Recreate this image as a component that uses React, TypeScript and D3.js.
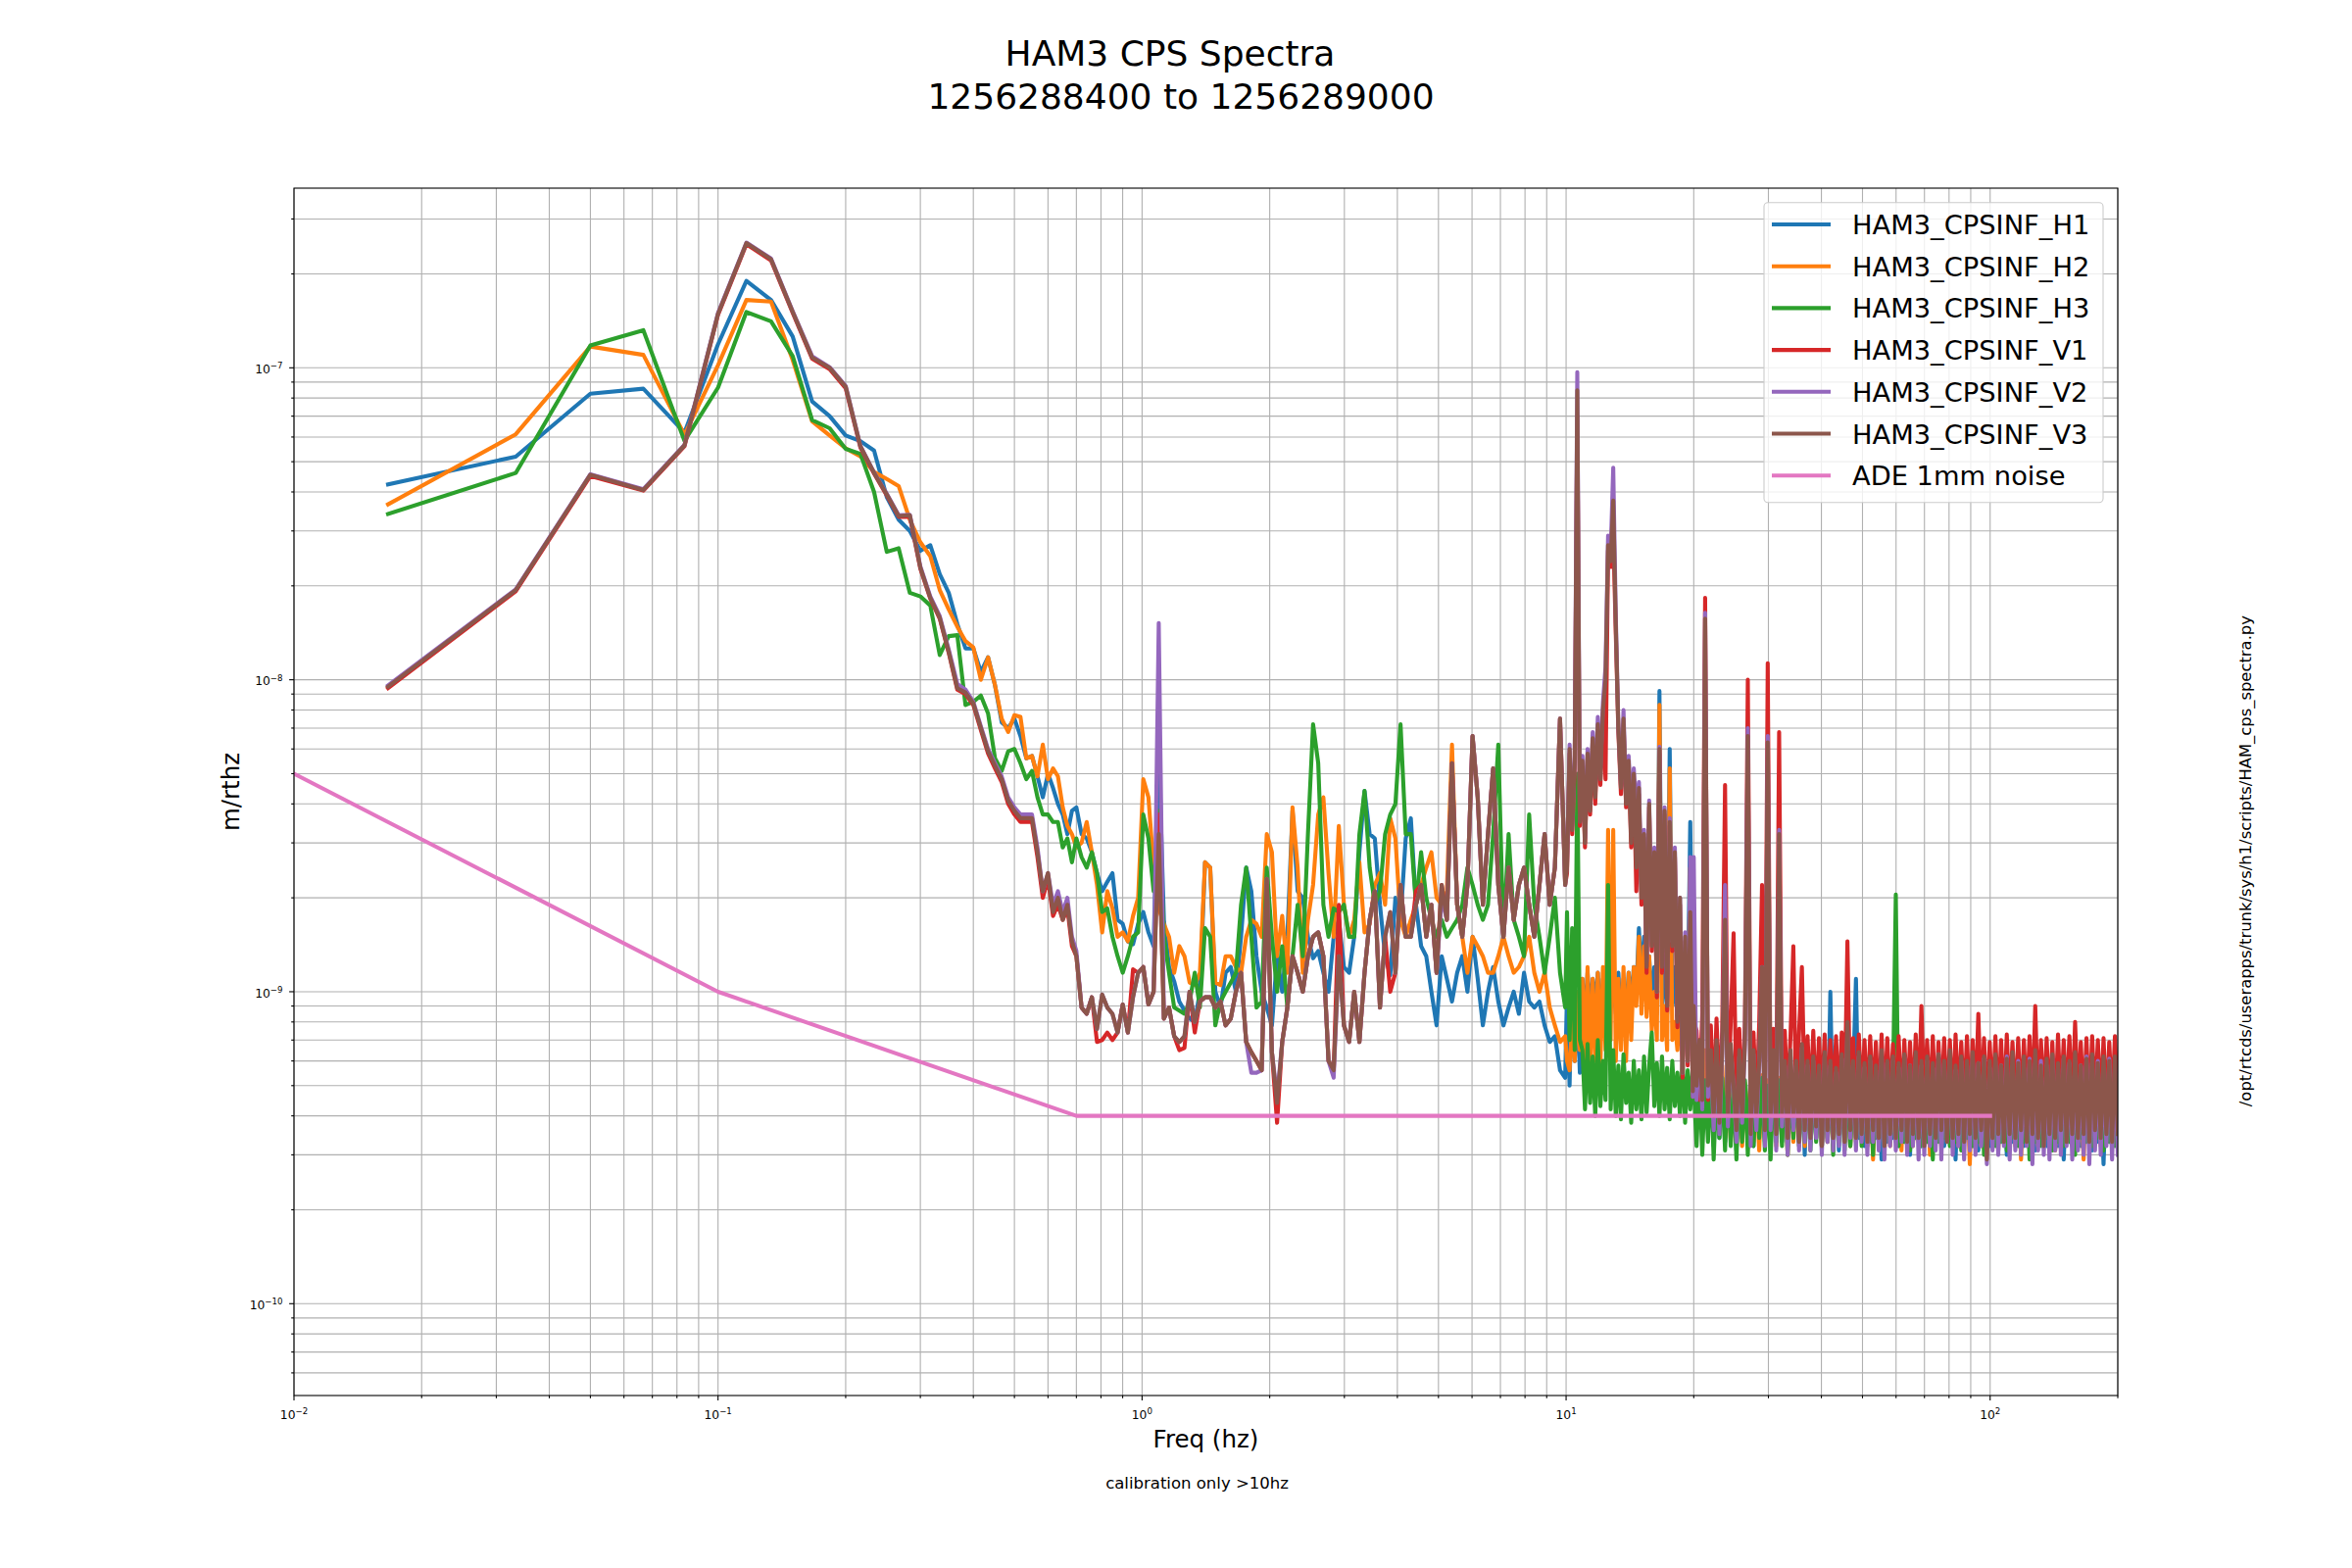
import React, { useEffect } from 'react';
import * as d3 from 'd3';

// ---------------- DATA ----------------
// Amplitude values are in units of 1e-10 m/rtHz
const UNIT = 1e-10;
// Spectral resolution of the low-frequency bins (600 s segments)
const BIN_HZ = 1 / 60;

// bins k = 1..42  (1/60 Hz .. 0.7 Hz)
const H1_LOW = [423, 519, 826, 857, 620, 1190, 1900, 1650, 1260, 780, 700, 607, 582, 543, 385, 326, 300, 259, 270, 218, 190, 151, 126, 126, 106, 118, 96, 73, 70, 75, 66, 56, 57, 49, 42, 50, 45, 40, 37, 32, 38, 39];
const H2_LOW = [365, 612, 1170, 1100, 610, 1020, 1650, 1630, 1060, 674, 607, 552, 520, 464, 440, 418, 326, 276, 249, 194, 168, 148, 133, 127, 100, 118, 96, 75, 68, 77, 76, 56, 57, 49, 62, 48, 52, 49, 39, 34, 32, 29];
const H3_LOW = [340, 460, 1180, 1320, 583, 864, 1510, 1410, 1090, 680, 640, 550, 530, 400, 257, 264, 190, 185, 173, 120, 138, 139, 83, 85, 89, 78, 56, 51, 59, 60, 54, 48, 51, 42, 37, 37, 35, 35, 29, 31, 26, 31];
const V1_LOW = [94, 192, 450, 404, 560, 1480, 2490, 2210, 1500, 1070, 990, 860, 555, 458, 390, 333, 333, 227, 182, 157, 122, 93, 90, 83, 69, 58, 52, 47, 40, 37, 35, 35, 35, 27, 20, 23, 17.5, 19, 17, 18.5, 14, 13];
const V2_LOW = [96, 195, 456, 408, 566, 1500, 2520, 2240, 1520, 1090, 1005, 875, 562, 462, 395, 337, 338, 231, 185, 160, 125, 97, 93, 85, 71, 60, 54, 49, 42, 39, 37, 37, 37, 29, 21, 24, 19, 21, 18, 20, 15, 13.5];
const V3_LOW = [95, 194, 454, 406, 564, 1490, 2510, 2230, 1510, 1080, 1000, 870, 560, 460, 393, 335, 337, 229, 183, 158, 123, 94, 91, 84, 70, 59, 53, 48, 41, 38, 36, 36, 36, 28, 21, 24, 18, 20, 17, 19, 14.5, 13];

// 95 points, log-spaced 0.72 Hz .. 9.95 Hz
const MID_START = 0.72, MID_END = 9.95, MID_N = 95;
const H1_MID = [
  32, 31, 28, 24, 21, 22.5, 24, 17, 16.5, 14.5,
  14.2, 16.5, 18, 15.5, 14, 60, 17, 12, 10.8, 9.3,
  8.7, 8.2, 8, 10, 26, 25, 10, 8.9, 11.5, 12,
  10, 15, 25, 21, 13, 10, 8.9, 7.8, 13, 10,
  15, 38, 21, 20, 15, 12.8, 13.5, 11.5, 10, 15,
  17, 12, 11.5, 15, 28, 44, 32, 31, 19, 13,
  11.3, 20, 17, 31, 36, 19, 14, 13, 10, 7.8,
  13, 11, 9.3, 11.5, 13, 10, 15, 11, 7.8, 10,
  12, 9.3, 7.8, 8.9, 10, 8.5, 11.5, 9.3, 8.9, 9.3,
  7.8, 6.9, 7.2, 5.6, 5.3];
const H2_MID = [
  30, 35, 28, 22, 15.5, 21, 18.5, 15, 15.5, 14.5,
  17.5, 20, 48, 42, 25, 18.5, 16.5, 15, 11.5, 14,
  13, 10.7, 10.5, 11.5, 26, 25, 10.7, 10.5, 13, 13,
  12, 11.5, 15, 17, 16.5, 15, 32, 28, 13, 17.5,
  11.5, 39, 25, 11.5, 17, 22, 37, 42, 24, 15,
  34, 19, 15, 17, 26, 15.5, 16.5, 22, 24, 19,
  36, 31, 17, 15, 17, 19, 22, 25, 28, 20,
  19, 21, 62, 19, 15, 11.5, 15, 14, 13, 11.5,
  11.5, 13, 15, 13, 11.5, 12, 13, 15, 11.5, 10,
  11.5, 8.9, 7.8, 6.9, 7.2];
const H3_MID = [
  27, 25, 28, 24, 18, 18.5, 15, 13, 11.5, 13,
  15, 15.5, 37, 31, 21, 38, 15, 11.5, 8.9, 8.7,
  8.5, 9.3, 11.5, 8.9, 16, 15, 7.8, 9.3, 10, 10.7,
  11.5, 19, 25, 15, 8.9, 9.3, 25, 15, 10, 14,
  8.9, 13, 19, 13, 32, 72, 54, 19, 15, 18.5,
  18, 19, 15, 15, 32, 44, 25, 19, 21, 32,
  37, 40, 72, 32, 32, 19, 28, 20, 17, 15,
  17, 15, 16, 17, 19, 25, 22, 19, 17, 19,
  32, 62, 15, 32, 17, 15, 13, 37, 19, 15,
  11.5, 15, 20, 11.5, 8.9];
const V1_MID = [
  8.9, 8.5, 9.6, 6.9, 7.0, 7.4, 7.0, 7.4, 9.1, 7.4,
  11.8, 11.5, 12, 9.1, 10, 37, 8.2, 8.9, 7.2, 6.5,
  6.6, 10, 7.4, 9.3, 9.6, 9.6, 8.9, 9.3, 7.8, 8.2,
  10, 11.5, 6.9, 6.4, 6.0, 5.6, 22, 6.4, 3.8, 6.9,
  8.9, 13, 11.5, 10, 13, 15, 15.5, 13, 6.0, 5.6,
  19, 7.8, 6.9, 10, 6.9, 11.5, 17, 21, 8.9, 15,
  10, 11.5, 22, 15, 15, 21, 22, 15, 19, 11.5,
  22, 17, 54, 19, 15, 22, 66, 42, 19, 32,
  52, 22, 15, 25, 17, 22, 25, 19, 15, 22,
  32, 19, 25, 75, 22];
const V2_MID = [
  8.9, 8.5, 9.6, 7.6, 9.8, 8.9, 8.5, 7.4, 9.1, 7.4,
  9.6, 11.5, 12, 9.1, 10, 152, 8.2, 8.9, 7.2, 6.9,
  7.2, 10, 8, 9.3, 9.6, 9.6, 8.9, 9.3, 7.8, 8.2,
  10, 11.5, 6.9, 5.5, 5.5, 5.6, 23, 6.4, 4.6, 6.9,
  8.9, 13, 11.5, 10, 13, 15, 15.5, 13, 6.0, 5.3,
  13, 7.8, 6.9, 10, 6.9, 11.5, 17, 21, 8.9, 15,
  18, 11.5, 22, 15, 15, 19, 22, 15, 19, 11.5,
  20, 17, 54, 19, 15, 22, 66, 42, 19, 32,
  52, 22, 15, 25, 17, 22, 25, 19, 15, 22,
  32, 19, 25, 75, 22];
const V3_MID = [
  8.9, 8.5, 9.6, 7.6, 9.8, 8.9, 8.5, 7.4, 9.1, 7.4,
  9.6, 11.5, 12, 9.1, 10, 32, 8.2, 8.9, 7.2, 6.9,
  7.2, 10, 8, 9.3, 9.6, 9.6, 8.9, 9.3, 7.8, 8.2,
  10, 11.5, 6.9, 6.4, 6.0, 5.6, 23, 6.4, 4.4, 6.9,
  8.9, 13, 11.5, 10, 13, 15, 15.5, 13, 6.0, 5.6,
  13, 7.8, 6.9, 10, 6.9, 11.5, 17, 21, 8.9, 15,
  18, 11.5, 22, 15, 15, 19, 22, 15, 19, 11.5,
  22, 17, 54, 19, 15, 22, 66, 42, 19, 32,
  52, 22, 15, 25, 17, 22, 25, 19, 15, 22,
  32, 19, 25, 75, 22];

// 50 points, log-spaced 10.05 Hz .. 19.9 Hz (dense, noisy region)
const DENSE_START = 10.05, DENSE_END = 19.9, DENSE_N = 50;
const H1_DENSE = [
  10, 5, 12, 6, 9.5, 5.5, 11, 8, 11.5, 8.5,
  11, 9, 11.5, 8, 11, 8.5, 11.5, 9, 11, 8.5,
  11.5, 8, 11, 8.5, 11.5, 9, 12, 10, 16, 11,
  15, 10, 13, 9, 12, 8.5, 92, 9, 13, 8.5,
  60, 9, 12, 8, 11, 7.5, 12, 9, 35, 8];
const H2_DENSE = [
  6, 5.6, 8, 6, 10, 6.5, 11, 6, 12, 5.5,
  11, 6, 11.5, 5.8, 12, 6.5, 33, 7, 33, 6,
  11, 6.5, 12, 6, 11.5, 7, 12, 9, 15, 8.5,
  14, 8.3, 13, 7.5, 10, 7, 83, 7, 9, 6.5,
  52, 7, 8, 6.5, 9, 6, 8.5, 7, 25, 7];
const H3_DENSE = [
  18, 7, 16, 6.5, 50, 7, 6.5, 4.2, 6.8, 4.4,
  6.2, 4, 7, 4.3, 6, 4.5, 22, 4.2, 6.5, 4,
  5.8, 3.9, 6.3, 4.4, 5.5, 3.8, 6, 4.2, 5.6, 3.9,
  6.2, 4.1, 5.8, 7.4, 4.3, 5.9, 4, 6.2, 4.2, 5.7,
  3.9, 6, 4.3, 5.5, 4, 6.1, 3.8, 5.6, 4.2, 5.8];
const V1_DENSE = [
  24, 58, 32, 53, 700, 34, 53, 29, 56, 37,
  63, 40, 70, 46, 78, 48, 260, 230, 300, 140,
  68, 43, 72, 39, 53, 29, 48, 21, 43, 19,
  31, 11.5, 39, 13.5, 27, 9.6, 58, 11.5, 37, 8.7,
  34, 13.5, 27, 7.7, 19, 5.3, 14.5, 5.8, 17, 4.6];
const V2_DENSE = [
  26, 62, 34, 57, 968, 36, 57, 31, 60, 40,
  68, 45, 76, 52, 85, 110, 290, 255, 478, 160,
  72, 46, 80, 41, 57, 38, 52, 38, 47, 21,
  33, 12.5, 41, 14.5, 29, 10, 61, 12.5, 39, 9.5,
  36, 14.5, 29, 8.5, 20, 5.5, 15.5, 6, 27, 4.6];
const V3_DENSE = [
  25, 60, 33, 55, 847, 35, 55, 30, 58, 38,
  65, 42, 72, 48, 80, 100, 270, 240, 375, 150,
  70, 45, 75, 40, 55, 30, 50, 25, 45, 20,
  32, 12, 40, 14, 28, 10, 60, 12, 38, 9,
  35, 14, 28, 8, 20, 5.5, 15, 6, 18, 4.8];

// 150 points, log-spaced 20 Hz .. 200 Hz
const HIGH_START = 20, HIGH_END = 200, HIGH_N = 150;
const H1_HIGH = [
  12, 4, 6, 3.5, 5.5, 3.6, 5, 3.2, 5.5, 3.4,
  5, 3.3, 6, 3.5, 5.2, 3.1, 5.5, 3.4, 5, 3.3,
  5.4, 3.2, 5, 3.5, 5.3, 3.3, 5, 3.1, 5.5, 3.4,
  5.2, 3.3, 5, 3.2, 5.4, 3.5, 5, 3.3, 5.2, 3.0,
  5.4, 3.3, 5.1, 3.4, 5.3, 3.2, 5, 3.3, 10, 3.4,
  5.2, 3.1, 5.4, 3.3, 5, 3.2, 5.3, 11, 3.4, 5,
  3.2, 5.4, 3.3, 5.1, 3.4, 5.3, 2.9, 5, 3.3, 5.2,
  3.4, 5, 3.2, 5.4, 3.3, 5.1, 3.0, 5.3, 3.4, 5,
  3.2, 5.2, 3.3, 5.4, 3.1, 5, 3.4, 5.3, 3.2, 5.1,
  3.3, 5, 2.9, 5.4, 3.3, 5.2, 3.4, 5, 3.2, 5.3,
  3.1, 5.1, 3.3, 5.4, 3.2, 5, 3.4, 5.2, 3.3, 5.3,
  3.0, 5.1, 3.3, 5, 3.4, 5.2, 3.2, 5.4, 3.3, 5,
  3.1, 5.3, 3.4, 5.1, 3.2, 5, 3.3, 5.4, 3.2, 5.2,
  2.9, 5, 3.3, 5.1, 3.4, 5.3, 3.2, 5, 3.3, 5.2,
  3.1, 5.4, 3.3, 5, 2.8, 5.2, 3.3, 5.1, 3.4, 5];
const H2_HIGH = [
  11, 6, 7, 4.5, 6.5, 4, 6, 3.6, 6.2, 3.5,
  5.8, 3.4, 5.5, 3.3, 5.2, 3.5, 5.4, 3.2, 5.1, 3.4,
  5.3, 3.3, 5, 3.1, 5.4, 3.4, 5.2, 3.3, 5, 3.2,
  5.3, 3.4, 5.1, 3.0, 5.4, 3.3, 5.2, 3.4, 5, 3.2,
  5.3, 3.3, 5.1, 3.4, 5.4, 3.2, 5, 3.3, 5.2, 3.1,
  5.4, 3.3, 5, 3.4, 5.2, 3.2, 5.3, 3.3, 5.1, 3.4,
  5, 3.2, 5.4, 2.9, 5.2, 3.3, 5.1, 3.4, 5.3, 3.2,
  5, 3.3, 5.2, 3.1, 5.4, 3.4, 5, 3.2, 5.3, 3.3,
  5.1, 3.4, 5.2, 3.0, 5, 3.3, 5.4, 3.2, 5.1, 3.4,
  5.3, 3.3, 5, 3.2, 5.2, 3.4, 5.1, 2.8, 5.4, 3.3,
  5, 3.2, 5.3, 3.4, 5.1, 3.3, 5.2, 3.1, 5, 3.4,
  5.4, 3.3, 5.1, 3.2, 5.3, 2.9, 5, 3.4, 5.2, 3.3,
  5.1, 3.2, 5.4, 3.3, 5, 3.4, 5.2, 3.1, 5.3, 3.3,
  5, 3.4, 5.1, 3.2, 5.4, 3.3, 5, 2.9, 5.2, 3.4,
  5.1, 3.3, 5.3, 3.2, 5, 3.4, 5.2, 3.3, 5.1, 3.2];
const H3_HIGH = [
  5, 3.2, 5.4, 3.0, 5.2, 3.3, 5.6, 2.9, 5, 3.4,
  5.3, 3.1, 5.5, 3.2, 5, 2.9, 5.4, 3.3, 5.2, 3.0,
  5.5, 3.2, 5.1, 3.4, 5.3, 3.1, 5, 2.9, 5.4, 3.3,
  5.2, 3.2, 5.5, 3.0, 5.1, 3.4, 5.3, 3.2, 5, 3.3,
  5.4, 3.1, 5.2, 3.3, 5, 3.2, 5.5, 3.4, 5.1, 3.0,
  5.3, 3.3, 5.2, 3.1, 5.4, 3.2, 5, 3.4, 5.3, 3.2,
  5.1, 3.3, 5.4, 3.0, 5.2, 3.4, 5, 3.2, 5.3, 3.3,
  5.1, 20.5, 3.2, 5.4, 3.3, 5, 3.1, 5.2, 3.4, 5.3,
  3.2, 5.1, 3.3, 5.4, 2.9, 5, 3.3, 5.2, 3.4, 5.1,
  3.2, 5.3, 3.3, 5, 3.1, 5.4, 3.4, 5.2, 3.2, 5,
  3.3, 5.3, 3.0, 5.1, 3.4, 5.2, 3.2, 5.4, 3.3, 5,
  3.1, 5.2, 3.4, 5.3, 3.2, 5, 3.3, 5.1, 2.9, 5.4,
  3.3, 5.2, 3.2, 5, 3.4, 5.3, 3.1, 5.1, 3.3, 5.2,
  3.2, 5.4, 3.3, 5, 3.0, 5.2, 3.4, 5.1, 3.3, 5.3,
  3.2, 5, 3.4, 5.2, 3.1, 5.3, 3.3, 5, 3.2, 5.1];
const V1_HIGH = [
  8, 7.5, 4.5, 8.5, 183, 4.5, 7.8, 4.2, 8.2, 4.6,
  7.5, 46, 4.3, 8, 15.4, 4.4, 7.6, 4.2, 8, 100,
  4.5, 7.4, 4.3, 7.9, 22, 4.4, 113, 4.2, 7.6, 4.5,
  68, 4.3, 7.5, 4.4, 7.2, 14, 4.3, 7.4, 12, 4.5,
  7.2, 4.3, 7.5, 4.2, 7.1, 4.4, 7.3, 4.3, 7.0, 4.5,
  7.2, 4.2, 7.4, 4.4, 14.5, 4.3, 7.1, 4.2, 7.3, 4.5,
  7.0, 4.3, 7.2, 4.4, 6.9, 4.2, 7.3, 4.3, 7.1, 4.4,
  6.8, 4.3, 7.2, 4.2, 7.0, 4.4, 6.9, 4.3, 7.3, 4.2,
  9, 4.4, 7.0, 4.3, 7.2, 4.2, 6.9, 4.4, 7.1, 4.3,
  7.0, 4.2, 7.3, 4.4, 6.9, 4.3, 7.2, 4.2, 7.0, 4.4,
  8.5, 4.3, 7.1, 4.2, 6.9, 4.4, 7.2, 4.3, 7.0, 4.2,
  7.3, 4.4, 6.9, 4.3, 7.1, 4.2, 7.0, 4.4, 7.2, 4.3,
  9, 4.2, 7.0, 4.4, 7.1, 4.3, 6.9, 4.2, 7.3, 4.4,
  7.0, 4.3, 7.2, 4.2, 8, 4.4, 6.9, 4.3, 7.1, 4.2,
  7.2, 4.4, 7.0, 4.3, 7.1, 4.2, 6.9, 4.4, 7.2, 4.3];
const V2_HIGH = [
  27, 4.5, 6.5, 4.2, 164, 4.6, 6.2, 3.6, 6.6, 3.5,
  6.2, 22, 3.7, 6.5, 5, 3.3, 6.2, 3.8, 6.8, 70,
  3.2, 6.3, 3.6, 5.8, 12, 3.2, 66, 3.6, 6.3, 3.1,
  33, 3.7, 5.8, 3.0, 6.2, 3.6, 5.8, 3.1, 6.6, 3.3,
  5.8, 3.1, 6.0, 3.4, 5.6, 3.0, 6.2, 3.3, 5.8, 3.1,
  5.5, 3.2, 6.1, 3.0, 7.5, 3.4, 5.8, 3.1, 6.2, 3.3,
  5.7, 3.0, 6.0, 3.3, 5.6, 3.1, 6.3, 2.9, 5.9, 3.2,
  6.0, 3.1, 5.7, 3.3, 6.2, 3.0, 5.8, 3.2, 6.1, 2.9,
  5.8, 3.0, 6.0, 3.2, 5.7, 3.1, 6.3, 2.9, 5.9, 3.3,
  6.1, 3.0, 5.6, 3.2, 6.0, 2.9, 5.8, 3.1, 6.2, 3.0,
  5.9, 3.2, 6.1, 2.8, 5.7, 3.1, 6.0, 3.0, 5.8, 3.2,
  6.2, 2.9, 5.8, 3.1, 6.0, 3.0, 5.7, 3.2, 6.1, 2.8,
  5.9, 3.1, 6.0, 3.0, 5.8, 2.9, 6.2, 3.1, 5.7, 3.0,
  6.1, 3.2, 5.9, 2.9, 6.0, 3.1, 5.8, 3.0, 6.2, 2.8,
  5.9, 3.1, 6.0, 3.0, 5.7, 3.2, 6.1, 2.9, 5.8, 3.0];
const V3_HIGH = [
  9, 5, 7, 4.5, 157, 5, 6.5, 4, 7, 3.8,
  6.5, 17, 4, 6.8, 5, 3.6, 6.5, 4, 7, 66,
  3.5, 6.5, 4, 6, 12, 3.6, 63, 4, 6.5, 3.5,
  32, 4, 6, 3.4, 6.5, 4, 6, 3.3, 6.8, 3.6,
  6, 3.4, 6.2, 3.7, 5.8, 3.2, 6.4, 3.6, 6, 3.4,
  5.7, 3.5, 6.3, 3.3, 8, 3.6, 6, 3.4, 6.4, 3.5,
  5.9, 3.3, 6.2, 3.6, 5.8, 3.4, 6.5, 3.2, 6, 3.5,
  6.2, 3.4, 5.9, 3.6, 6.3, 3.3, 5.8, 3.5, 6.4, 3.4,
  6, 3.2, 6.2, 3.5, 5.9, 3.4, 6.3, 3.6, 6, 3.3,
  6.5, 3.4, 5.8, 3.5, 6.2, 3.3, 6, 3.5, 6.4, 3.4,
  5.9, 3.6, 6.2, 2.9, 6, 3.4, 6.3, 3.5, 5.8, 3.3,
  6.1, 3.5, 6.4, 3.4, 5.9, 3.6, 6.2, 3.3, 6, 3.5,
  6.5, 3.4, 5.8, 3.2, 6.1, 3.5, 6.3, 3.4, 5.9, 3.6,
  6.2, 3.3, 6, 3.5, 6.4, 3.4, 5.8, 3.5, 6.1, 3.3,
  6.3, 3.6, 5.9, 3.4, 6.2, 3.5, 6, 3.3, 6.2, 3.5];

// ADE 1mm noise reference curve (m/rtHz)
const ADE_F = [0.01, 0.1, 0.7, 100];
const ADE_V = [5e-9, 1e-9, 4e-10, 4e-10];

const SERIES_NAMES = ['HAM3_CPSINF_H1', 'HAM3_CPSINF_H2', 'HAM3_CPSINF_H3', 'HAM3_CPSINF_V1', 'HAM3_CPSINF_V2', 'HAM3_CPSINF_V3'];
const SERIES_COLORS = ['#1f77b4', '#ff7f0e', '#2ca02c', '#d62728', '#9467bd', '#8c564b'];
const ADE_NAME = 'ADE 1mm noise';
const ADE_COLOR = '#e377c2';

const TITLE_1 = 'HAM3 CPS Spectra';
const TITLE_2 = '1256288400 to 1256289000';
const X_LABEL = 'Freq (hz)';
const Y_LABEL = 'm/rthz';
const NOTE_BOTTOM = 'calibration only >10hz';
const NOTE_RIGHT = '/opt/rtcds/userapps/trunk/sys/h1/scripts/HAM_cps_spectra.py';

const X_DOMAIN = [0.01, 200];
const Y_DOMAIN = [5.077e-11, 3.766e-7];

// ---------------- LAYOUT ----------------
const W = 2400, H = 1600;
const PL = 300, PR = 2161, PT = 192, PB = 1424;
const FONT = '"DejaVu Sans", "Liberation Sans", sans-serif';
const LW = 4.1;

const logGrid = (a: number, b: number, n: number) =>
  d3.range(n).map((i) => a * Math.pow(b / a, i / (n - 1)));

const LOW_F = H1_LOW.map((_, k) => (k + 1) * BIN_HZ);
const MID_F = logGrid(MID_START, MID_END, MID_N);
const DENSE_F = logGrid(DENSE_START, DENSE_END, DENSE_N);
const HIGH_F = logGrid(HIGH_START, HIGH_END, HIGH_N);

const LOWS = [H1_LOW, H2_LOW, H3_LOW, V1_LOW, V2_LOW, V3_LOW];
const MIDS = [H1_MID, H2_MID, H3_MID, V1_MID, V2_MID, V3_MID];
const DENSES = [H1_DENSE, H2_DENSE, H3_DENSE, V1_DENSE, V2_DENSE, V3_DENSE];
const HIGHS = [H1_HIGH, H2_HIGH, H3_HIGH, V1_HIGH, V2_HIGH, V3_HIGH];

function seriesPoints(idx: number): [number, number][] {
  const pts: [number, number][] = [];
  const add = (fs: number[], vs: number[]) =>
    vs.forEach((v, i) => { if (i < fs.length) pts.push([fs[i], v * UNIT]); });
  add(LOW_F, LOWS[idx]);
  add(MID_F, MIDS[idx]);
  add(DENSE_F, DENSES[idx]);
  add(HIGH_F, HIGHS[idx]);
  return pts;
}

function sup(exp: number) {
  return (exp < 0 ? '\u2212' : '') + Math.abs(exp);
}

export default function App() {
  useEffect(() => {
    document.body.style.margin = '0';
    document.body.style.overflow = 'hidden';
  }, []);

  const x = d3.scaleLog().domain(X_DOMAIN).range([PL, PR]);
  const y = d3.scaleLog().domain(Y_DOMAIN).range([PB, PT]);
  const line = d3.line<[number, number]>().x((d) => x(d[0])).y((d) => y(d[1]));

  const xTicks = x.ticks().filter((t) => t >= X_DOMAIN[0] * 0.999 && t <= X_DOMAIN[1] * 1.001);
  const yTicks = y.ticks().filter((t) => t >= Y_DOMAIN[0] && t <= Y_DOMAIN[1]);
  const isMajor = (t: number) => Math.abs(Math.log10(t) - Math.round(Math.log10(t))) < 1e-6;

  const adePts: [number, number][] = ADE_F.map((f, i) => [f, ADE_V[i]]);

  const legendItems = [
    ...SERIES_NAMES.map((n, i) => ({ name: n, color: SERIES_COLORS[i] })),
    { name: ADE_NAME, color: ADE_COLOR },
  ];
  const LGX = 1800, LGY = 206.7, LGW = 346, LGH = 306, LROW = 42.7;

  return (
    <svg width={W} height={H} viewBox={`0 0 ${W} ${H}`} style={{ position: 'absolute', left: 0, top: 0, background: '#fff' }}
      fontFamily={FONT}>
      <defs>
        <clipPath id="plotclip">
          <rect x={PL} y={PT} width={PR - PL} height={PB - PT} />
        </clipPath>
      </defs>
      <rect x={0} y={0} width={W} height={H} fill="#fff" />

      {/* grid */}
      <g stroke="#b0b0b0" strokeWidth={1.1}>
        {xTicks.map((t, i) => (
          <line key={'gx' + i} x1={x(t)} x2={x(t)} y1={PT} y2={PB} />
        ))}
        {yTicks.map((t, i) => (
          <line key={'gy' + i} x1={PL} x2={PR} y1={y(t)} y2={y(t)} />
        ))}
      </g>

      {/* data */}
      <g clipPath="url(#plotclip)" fill="none" strokeWidth={LW} strokeLinejoin="round" strokeLinecap="square">
        {SERIES_NAMES.map((n, i) => (
          <path key={n} d={line(seriesPoints(i)) || ''} stroke={SERIES_COLORS[i]} />
        ))}
        <path d={line(adePts) || ''} stroke={ADE_COLOR} />
      </g>

      {/* spines */}
      <rect x={PL} y={PT} width={PR - PL} height={PB - PT} fill="none" stroke="#000" strokeWidth={1.1} />

      {/* ticks */}
      <g stroke="#000" strokeWidth={1.1}>
        {xTicks.map((t, i) => (
          <line key={'tx' + i} x1={x(t)} x2={x(t)} y1={PB} y2={PB + (isMajor(t) ? 4.9 : 2.8)} />
        ))}
        {yTicks.map((t, i) => (
          <line key={'ty' + i} x1={PL} x2={PL - (isMajor(t) ? 4.9 : 2.8)} y1={y(t)} y2={y(t)} />
        ))}
      </g>

      {/* tick labels */}
      <g fontSize={12.3} fill="#000">
        {xTicks.filter(isMajor).map((t, i) => (
          <text key={'lx' + i} x={x(t)} y={1447.5} textAnchor="middle">
            <tspan>10</tspan>
            <tspan fontSize={8.6} dy={-4.6}>{sup(Math.round(Math.log10(t)))}</tspan>
          </text>
        ))}
        {yTicks.filter(isMajor).map((t, i) => (
          <text key={'ly' + i} x={288.5} y={y(t) + 5.6} textAnchor="end">
            <tspan>10</tspan>
            <tspan fontSize={8.6} dy={-4.6}>{sup(Math.round(Math.log10(t)))}</tspan>
          </text>
        ))}
      </g>

      {/* axis labels */}
      <text x={(PL + PR) / 2} y={1477} textAnchor="middle" fontSize={24.5} fill="#000">{X_LABEL}</text>
      <text transform={`translate(244.2, ${(PT + PB) / 2}) rotate(-90)`} textAnchor="middle" fontSize={24.5} fill="#000">{Y_LABEL}</text>

      {/* title */}
      <text x={1194} y={66.6} textAnchor="middle" fontSize={36} fill="#000">{TITLE_1}</text>
      <text x={1205} y={111.4} textAnchor="middle" fontSize={36} fill="#000">{TITLE_2}</text>

      {/* notes */}
      <text x={1221.5} y={1519} textAnchor="middle" fontSize={16.5} fill="#000">{NOTE_BOTTOM}</text>
      <text transform="translate(2297, 878.6) rotate(-90)" textAnchor="middle" fontSize={16.4} fill="#000">{NOTE_RIGHT}</text>

      {/* legend */}
      <g>
        <rect x={LGX} y={LGY} width={LGW} height={LGH} rx={4} ry={4} fill="#fff" fillOpacity={0.8} stroke="#cccccc" strokeWidth={1.1} />
        {legendItems.map((it, i) => {
          const yy = 229 + i * LROW;
          return (
            <g key={it.name}>
              <line x1={1808} x2={1868} y1={yy} y2={yy} stroke={it.color} strokeWidth={LW} />
              <text x={1890} y={yy + 10} fontSize={27.3} fill="#000">{it.name}</text>
            </g>
          );
        })}
      </g>
    </svg>
  );
}
